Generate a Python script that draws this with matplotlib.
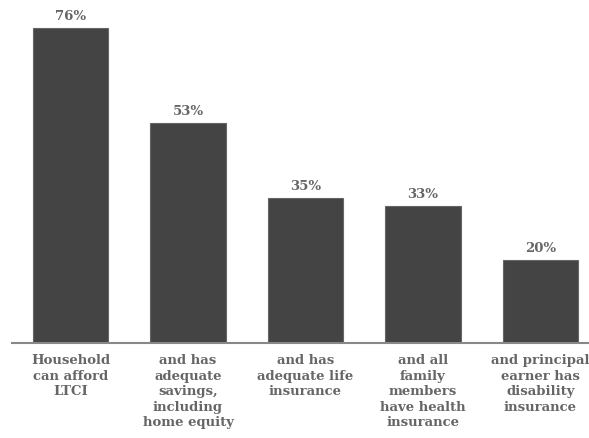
import matplotlib
matplotlib.use("Agg")
import matplotlib.pyplot as plt

categories = [
    "Household\ncan afford\nLTCI",
    "and has\nadequate\nsavings,\nincluding\nhome equity",
    "and has\nadequate life\ninsurance",
    "and all\nfamily\nmembers\nhave health\ninsurance",
    "and principal\nearner has\ndisability\ninsurance",
]
values = [76, 53, 35, 33, 20]

W, H = 589, 438
fig = plt.figure(figsize=(W / 100, H / 100), dpi=100)
px_per_unit = 117.5
left_px = 70.5 - 0.5 * px_per_unit
base_px = 343
ymax = 80
unit_h = 315 / 76
ax = fig.add_axes([left_px / W, (H - base_px) / H, 5 * px_per_unit / W, ymax * unit_h / H])

x = list(range(len(values)))
bars = ax.bar(x, values, width=0.64, color="#444444", edgecolor="#666666", linewidth=0.8, zorder=2)
ax.set_xlim(-0.5, 4.5)
ax.set_ylim(0, ymax)

for xi, v in zip(x, values):
    ax.text(xi, v + 1.2, f"{v}%", ha="center", va="bottom", fontsize=9.5,
            fontweight="bold", color="#666666", family="DejaVu Serif")

ax.set_xticks(x)
ax.set_xticklabels(categories, fontsize=9.5, fontweight="bold", color="#666666",
                   family="DejaVu Serif", linespacing=1.25, va="top")
ax.tick_params(axis="x", length=0, pad=8)
ax.set_yticks([])
for s in ["top", "right", "left"]:
    ax.spines[s].set_visible(False)
ax.spines["bottom"].set_color("#888888")
ax.spines["bottom"].set_linewidth(1.5)

fig.savefig("out.png", dpi=100)
